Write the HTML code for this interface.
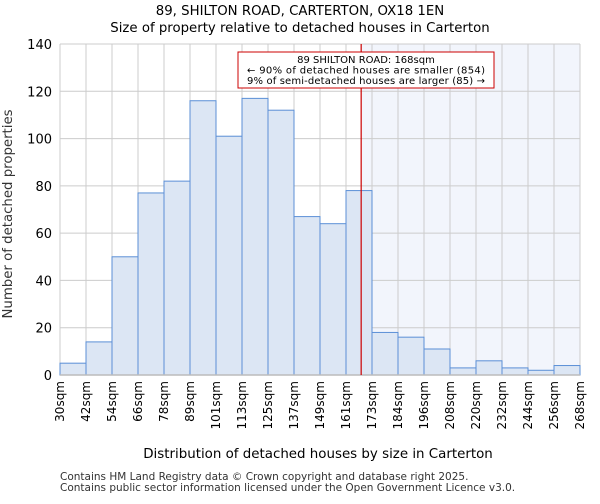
<!DOCTYPE html>
<html><head><meta charset="utf-8"><style>
body{margin:0;background:#fff;font-family:"DejaVu Sans","Liberation Sans",sans-serif}
</style></head><body>
<svg width="600" height="500" xmlns="http://www.w3.org/2000/svg" id="chart" font-family="DejaVu Sans, Liberation Sans, sans-serif">
<text x="300" y="15" text-anchor="middle" font-size="13.3">89, SHILTON ROAD, CARTERTON, OX18 1EN</text>
<text x="300" y="32" text-anchor="middle" font-size="13.3">Size of property relative to detached houses in Carterton</text>
<g id="plot"></g>
<text x="318" y="458" text-anchor="middle" font-size="13.4">Distribution of detached houses by size in Carterton</text>
<text transform="translate(12,214) rotate(-90)" text-anchor="middle" font-size="13.3" fill="#333">Number of detached properties</text>
<text x="60" y="480" font-size="10.5" fill="#333">Contains HM Land Registry data © Crown copyright and database right 2025.</text>
<text x="60" y="491" font-size="10.5" fill="#333">Contains public sector information licensed under the Open Government Licence v3.0.</text>
</svg>
<script>
const binEdges=[30,42,54,66,78,89,101,113,125,137,149,161,173,184,196,208,220,232,244,256,268];
const edgeLabels=["30sqm","42sqm","54sqm","66sqm","78sqm","89sqm","101sqm","113sqm","125sqm","137sqm","149sqm","161sqm","173sqm","184sqm","196sqm","208sqm","220sqm","232sqm","244sqm","256sqm","268sqm"];
const counts=[5,14,50,77,82,116,101,117,112,67,64,78,18,16,11,3,6,3,2,4];
const yTicks=[0,20,40,60,80,100,120,140];
const subjectSize=168;
const L=60,R=580,T=44,B=375,yMax=140;
const NS="http://www.w3.org/2000/svg";
const g=document.getElementById('plot');
const nb=counts.length;
function xi(i){return L+(R-L)*i/nb;}
function xv(v){
  for(let i=0;i<nb;i++){if(v<=binEdges[i+1]){return xi(i)+(v-binEdges[i])/(binEdges[i+1]-binEdges[i])*(xi(i+1)-xi(i));}}
  return R;}
function y(v){return B-(B-T)*v/yMax;}
function el(t,a){const e=document.createElementNS(NS,t);for(const k in a)e.setAttribute(k,a[k]);g.appendChild(e);return e;}
const sx=xv(subjectSize);
let s=el('rect',{x:sx,y:T,width:R-sx,height:B-T,fill:'#f2f5fc'});


for(let i=0;i<=nb;i++){let l=el('line',{x1:xi(i),x2:xi(i),y1:T,y2:B,stroke:'#cccccc','stroke-width':1});

}
yTicks.forEach(t=>{let l=el('line',{x1:L,x2:R,y1:y(t),y2:y(t),stroke:'#cccccc','stroke-width':1});


let tx=el('text',{x:L-8,y:y(t)+5,'text-anchor':'end','font-size':13});tx.textContent=t;

});
counts.forEach((c,i)=>{let r=el('rect',{x:xi(i),y:y(c),width:xi(i+1)-xi(i),height:B-y(c),fill:'#dce6f4',stroke:'#5b8fd6','stroke-width':1});

});
edgeLabels.forEach((lb,i)=>{let tx=el('text',{transform:`translate(${xi(i)+4},${B+6}) rotate(-90)`,'text-anchor':'end','font-size':12});tx.textContent=lb;

});
let ax=el('line',{x1:L,x2:R,y1:B,y2:B,stroke:'#bbb','stroke-width':1.5});


let rl=el('line',{x1:sx,x2:sx,y1:T,y2:B,stroke:'#cc0000','stroke-width':1.2});


let box=el('rect',{x:238,y:52,width:256,height:36,fill:'#fff',stroke:'#cc0000','stroke-width':1});


["89 SHILTON ROAD: 168sqm","← 90% of detached houses are smaller (854)","9% of semi-detached houses are larger (85) →"].forEach((t,i)=>{
let tx=el('text',{x:366,y:63+i*10.5,'text-anchor':'middle','font-size':10,textLength:[0,238,238][i]||undefined});tx.textContent=t;
if(i===0)tx.removeAttribute('textLength');

});
</script>
</body></html>
